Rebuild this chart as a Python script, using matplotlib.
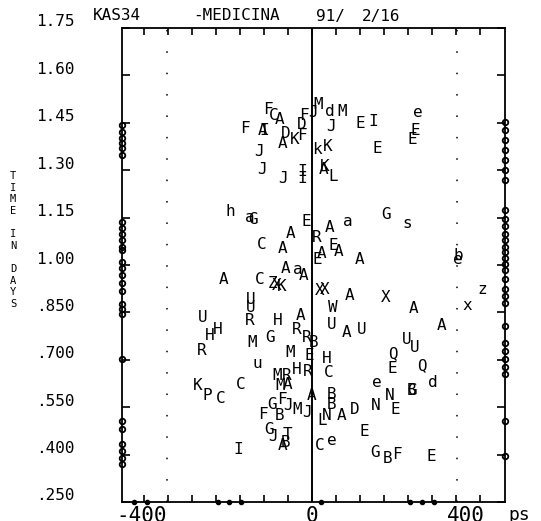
import matplotlib
matplotlib.use('Agg')
import matplotlib.pyplot as plt
import numpy as np
from matplotlib.transforms import ScaledTranslation, blended_transform_factory

# ---- data: letter codes, delay (ps) and time (days) ----
letters = ['F', 'C', 'A', 'F', 'A', 'I', 'D', 'A', 'K', 'F', 'D', 'F', 'J', 'M', 'd', 'M',
           'J', 'E', 'I', 'e', 'E', 'E', 'E', 'k', 'K', 'K', 'A', 'L', 'J', 'J', 'J', 'I', 'I',
           'h', 'a', 'G', 'E', 'A', 'C', 'A', 'A', 'a', 'A', 'A', 'C', 'Z', 'K', 'X',
           'A', 'a', 'G', 's', 'R', 'E', 'A', 'A', 'E', 'A', 'b', 'e', 'X', 'X', 'A', 'X',
           'W', 'A', 'z', 'x',
           'U', 'A', 'U', 'A', 'U', 'U', 'Q', 'E', 'Q', 'd', 'G', 'B', 'e', 'N', 'E', 'N',
           'D', 'A', 'B', 'B', 'A', 'J', 'L', 'N', 'C', 'e', 'E', 'G', 'B', 'F', 'E', 'E',
           'H', 'R', 'C',
           'U', 'U', 'R', 'H', 'A', 'R', 'U', 'H', 'H', 'M', 'G', 'R', 'M', 'u', 'R', 'B',
           'M', 'R', 'H', 'M', 'A', 'K', 'P', 'C', 'C', 'F', 'G', 'J', 'M', 'F', 'B', 'G',
           'J', 'T', 'A', 'B', 'I']
x_ps = [-115, -99, -84, -175, -128, -125, -68, -78, -44, -26, -26, -21, 3, 16, 47, 78,
        50, 125, 159, 277, 269, 261, 170, 13, 42, 34, 29, 55, -138, -131, -76, -26, -26,
        -214, -162, -154, -16, -55, -131, -78, -70, -37, -21, -230, -136, -104, -78, -91,
        47, 94, 193, 248, 13, 55, 70, 26, 13, 125, 381, 381, 21, 34, 97, 193,
        55, 264, 444, 405,
        52, 91, 131, 337, 248, 269, 211, 211, 287, 316, 261, 261, 170, 204, 217, 167,
        112, 78, 52, 52, 0, -13, 26, 39, 21, 52, 136, 164, 198, 222, 311, -8,
        39, -10, 44,
        -159, -159, -162, -89, -31, -39, -285, -245, -266, -157, -110, -287, -57, -144, -13, 3,
        -91, -65, -39, -84, -63, -298, -274, -238, -185, -78, -104, -63, -39, -128, -84, -112,
        -102, -63, -78, -70, -193]
y_days = [1.496, 1.477, 1.465, 1.436, 1.430, 1.430, 1.420, 1.388, 1.401, 1.414, 1.449, 1.477,
          1.487, 1.512, 1.490, 1.490,
          1.442, 1.452, 1.458, 1.487, 1.430, 1.401, 1.373, 1.369, 1.379, 1.315, 1.306, 1.284,
          1.363, 1.306, 1.277, 1.300, 1.280,
          1.173, 1.154, 1.150, 1.141, 1.103, 1.071, 1.058, 0.995, 0.989, 0.973, 0.960, 0.960,
          0.947, 0.938, 0.941,
          1.125, 1.141, 1.163, 1.135, 1.093, 1.068, 1.046, 1.040, 1.021, 1.021, 1.036, 1.021,
          0.925, 0.928, 0.909, 0.903,
          0.871, 0.868, 0.928, 0.878,
          0.817, 0.792, 0.802, 0.814, 0.770, 0.744, 0.725, 0.678, 0.687, 0.633, 0.608, 0.608,
          0.633, 0.592, 0.548, 0.561,
          0.548, 0.529, 0.595, 0.564, 0.592, 0.538, 0.513, 0.529, 0.434, 0.450, 0.478, 0.411,
          0.392, 0.405, 0.399, 0.719,
          0.710, 0.668, 0.665,
          0.894, 0.871, 0.830, 0.830, 0.846, 0.802, 0.840, 0.802, 0.783, 0.760, 0.776, 0.735,
          0.729, 0.694, 0.776, 0.760,
          0.656, 0.656, 0.675, 0.624, 0.627, 0.624, 0.592, 0.583, 0.627, 0.580, 0.564, 0.561,
          0.548, 0.532, 0.529, 0.484,
          0.462, 0.469, 0.434, 0.443, 0.421]

# marginal markers along the frame
left_marks = [1.442, 1.420, 1.401, 1.385, 1.369, 1.347,
              1.135, 1.116, 1.097, 1.078, 1.058, 1.046, 1.008, 0.989, 0.967, 0.944, 0.919,
              0.878, 0.862, 0.846, 0.703, 0.507, 0.481, 0.434, 0.411, 0.389, 0.370]
right_marks = [1.452, 1.426, 1.395, 1.363, 1.331, 1.300, 1.268,
               1.173, 1.147, 1.122, 1.097, 1.078, 1.058, 1.040, 1.021, 1.002, 0.983, 0.957,
               0.925, 0.903, 0.881, 0.808, 0.754, 0.729, 0.703, 0.678, 0.656, 0.507, 0.396]
bottom_marks = [-465, -431, -245, -217, -185, 23, 256, 287, 319]

ytick_vals = [1.75, 1.60, 1.45, 1.30, 1.15, 1.00, 0.85, 0.70, 0.55, 0.40, 0.25]
ytick_labels = ['1.75', '1.60', '1.45', '1.30', '1.15', '1.00', '.850', '.700', '.550',
                '.400', '.250']
xlabel_text = ['-400', '0', '400']
xlabel_pos = [-444, 0, 402]
xtick_step = 62.5

MONO = 'DejaVu Sans Mono'

fig = plt.figure(figsize=(5.41, 5.21), dpi=100)
W, H = 541, 521
ax = fig.add_axes([122 / W, 1 - 502 / H, 383 / W, 474 / H])
ax.set_xlim(-496, 504)
ax.set_ylim(0.25, 1.75)

for sp in ax.spines.values():
    sp.set_linewidth(1.3)
    sp.set_color('black')

ax.set_xticks(np.arange(-7, 8) * xtick_step)
ax.set_yticks(ytick_vals)
ax.tick_params(axis='x', direction='in', length=5, width=1.2, top=True, bottom=True,
               labelbottom=False)
ax.tick_params(axis='y', direction='in', length=5.5, width=1.2, left=True, right=True,
               labelleft=False)

# center line and dotted guides
ax.axvline(0, color='black', lw=1.4)
for xv in (-378, 378):
    ax.axvline(xv, color='black', lw=1.1, ls=(0, (1, 13)))

# letters
for s, xv, yv in zip(letters, x_ps, y_days):
    ax.text(xv, yv, s, ha='center', va='center_baseline', fontsize=11.5, family=MONO,
            color='black')

# marginal markers
ax.plot(np.full(len(left_marks), -496), left_marks, 'o', ms=4, mfc='none', mec='black',
        mew=1.3, clip_on=False)
ax.plot(np.full(len(right_marks), 504), right_marks, 'o', ms=4, mfc='none', mec='black',
        mew=1.3, clip_on=False)
ax.plot(bottom_marks, np.full(len(bottom_marks), 0.25), 'o', ms=3, mfc='black',
        mec='black', clip_on=False)

# y tick labels (plotter style, slightly above tick)
ytrans = blended_transform_factory(fig.transFigure, ax.transData) + \
    ScaledTranslation(0, 6 / 100, fig.dpi_scale_trans)
for v, s in zip(ytick_vals, ytick_labels):
    ax.text(75 / W, v, s, transform=ytrans, ha='right', va='center', fontsize=11.5,
            family=MONO, clip_on=False)

# x labels
xtrans = blended_transform_factory(ax.transData, fig.transFigure)
for p, s in zip(xlabel_pos, xlabel_text):
    ax.text(p, 1 - 506 / H, s, transform=xtrans, ha='center', va='top', fontsize=15,
            family=MONO, clip_on=False)
fig.text(508 / W, 1 - 506 / H, 'ps', ha='left', va='top', fontsize=13, family=MONO)

# title pieces
for xpx, s in [(93, 'KAS34'), (193, '-MEDICINA'), (316, '91/'), (362, '2/16')]:
    fig.text(xpx / W, 1 - 16 / H, s, ha='left', va='center', fontsize=11.5, family=MONO)

# stacked y-axis title
fig.text(13 / W, 1 - 240 / H, 'T\nI\nM\nE\n \nI\nN\n \nD\nA\nY\nS', ha='center',
         va='center', fontsize=7.5, linespacing=1.2, family=MONO)

fig.savefig('out.png', dpi=100)
